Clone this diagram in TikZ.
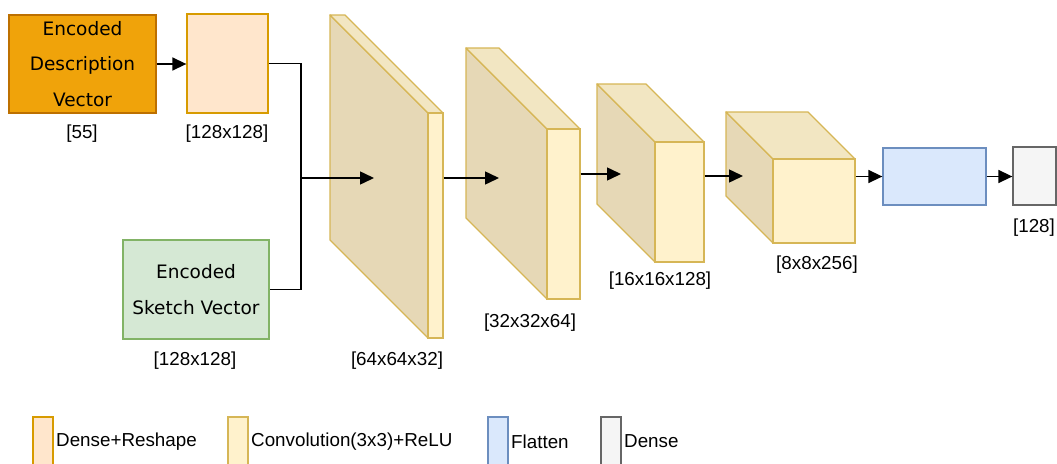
\documentclass[tikz,border=0pt]{standalone}
\usepackage{fontspec}
\setmainfont{Liberation Sans}
\newfontfamily\boxfont{DejaVu Sans}
\usetikzlibrary{arrows.meta}

\definecolor{descfill}{HTML}{F0A30A}
\definecolor{descdraw}{HTML}{BD7000}
\definecolor{reshfill}{HTML}{FFE6CC}
\definecolor{reshdraw}{HTML}{D79B00}
\definecolor{sketchfill}{HTML}{D5E8D4}
\definecolor{sketchdraw}{HTML}{82B366}
\definecolor{convfront}{HTML}{FFF2CC}
\definecolor{convtop}{HTML}{F2E6C2}
\definecolor{convside}{HTML}{E6D8B6}
\definecolor{convdraw}{HTML}{D6B656}
\definecolor{flatfill}{HTML}{DAE8FC}
\definecolor{flatdraw}{HTML}{6C8EBF}
\definecolor{densefill}{HTML}{F5F5F5}
\definecolor{densedraw}{HTML}{666666}

\tikzset{
  box/.style={rectangle, inner sep=0pt, line width=1.3pt, align=center,
    font=\boxfont\fontsize{18.5}{35.5}\selectfont},
  lbl/.style={inner sep=0pt, font=\fontsize{18.8}{22}\selectfont},
  legtext/.style={inner sep=0pt, anchor=west, font=\fontsize{18.8}{22}\selectfont},
  swatch/.style={line width=1.3pt},
  wire/.style={line width=1.5pt, line join=miter},
  conn/.style={wire, -{Triangle[length=14pt,width=13pt]}},
}

% cuboid: name, back-top-left x, y, depth, front width, front height
\newcommand\cuboid[6]{%
  \fill[convside, draw=convdraw, line width=1.3pt, line join=round]
    (#2,#3) -- ({#2+#4},{#3+#4}) -- ({#2+#4},{#3+#4+#6}) -- (#2,{#3+#6}) -- cycle;
  \fill[convtop, draw=convdraw, line width=1.3pt, line join=round]
    (#2,#3) -- ({#2+#5},#3) -- ({#2+#5+#4},{#3+#4}) -- ({#2+#4},{#3+#4}) -- cycle;
  \node[rectangle, inner sep=0pt, fill=convfront, draw=convdraw, line width=1.3pt,
    minimum width=#5pt, minimum height=#6pt] (#1) at ({#2+#4+#5/2},{#3+#4+#6/2}) {};
}

\begin{document}
\begin{tikzpicture}[x=1pt, y=-1pt]
\clip (0,0) rectangle (1057,463);
\fill[white] (0,0) rectangle (1057,463);

% inputs
\node[box, fill=descfill, draw=descdraw, minimum width=147pt, minimum height=98pt]
  (desc) at (82.5,64) {Encoded\\Description\\Vector};
\node[box, fill=reshfill, draw=reshdraw, minimum width=81pt, minimum height=99pt]
  (resh) at (227.5,63.5) {};
\node[box, fill=sketchfill, draw=sketchdraw, minimum width=146pt, minimum height=99pt]
  (sketch) at (196,289.5) {Encoded\\Sketch Vector};

% convolution blocks
\cuboid{b1}{330}{15}{98}{15}{225}
\cuboid{b2}{466}{48}{81}{33}{170}
\cuboid{b3}{597}{84}{58}{49}{120}
\cuboid{b4}{726}{112}{47}{82}{84}

% flatten and dense
\node[box, fill=flatfill, draw=flatdraw, minimum width=103pt, minimum height=57pt]
  (flat) at (934.5,176.5) {};
\node[box, fill=densefill, draw=densedraw, minimum width=43pt, minimum height=58pt]
  (dense) at (1034.5,176) {};

% connectors
\coordinate (jn) at (301,178);
\coordinate (in1) at (374,178);
\coordinate (in2) at (499,178);
\coordinate (in3) at (621,174);
\coordinate (in4) at (743,176);

\draw[conn] (desc.east) -- (desc.east -| resh.west);
\draw[wire] (resh.east) -| (jn) |- (sketch.east);
\draw[conn] (jn) -- (in1);
\draw[conn] (b1.east |- in2) -- (in2);
\draw[conn] (b2.east |- in3) -- (in3);
\draw[conn] (b3.east |- in4) -- (in4);
\draw[conn] (b4.east |- flat.west) -- (flat.west);
\draw[conn] (flat.east) -- (flat.east -| dense.west);

% shape labels
\node[lbl] (l55) at (82,134) {[55]};
\node[lbl] (lresh) at (227,134) {[128x128]};
\node[lbl] (lsketch) at (195,361) {[128x128]};
\node[lbl] (lb1) at (397,361) {[64x64x32]};
\node[lbl] (lb2) at (530,323) {[32x32x64]};
\node[lbl] (lb3) at (660,281) {[16x16x128]};
\node[lbl] (lb4) at (817,265) {[8x8x256]};
\node[lbl] (ldense) at (1034,228) {[128]};

% legend
\filldraw[swatch, fill=reshfill, draw=reshdraw] (33,417) rectangle (53,475);
\node[legtext] (t1) at (56,441.5) {Dense+Reshape};
\filldraw[swatch, fill=convfront, draw=convdraw] (228,417) rectangle (248,475);
\node[legtext] (t2) at (251,441.5) {Convolution(3x3)+ReLU};
\filldraw[swatch, fill=flatfill, draw=flatdraw] (488,417) rectangle (508,475);
\node[legtext] (t3) at (511,441.5) {Flatten};
\filldraw[swatch, fill=densefill, draw=densedraw] (601,417) rectangle (621,475);
\node[legtext] (t4) at (624,441.5) {Dense};
\end{tikzpicture}
\end{document}
